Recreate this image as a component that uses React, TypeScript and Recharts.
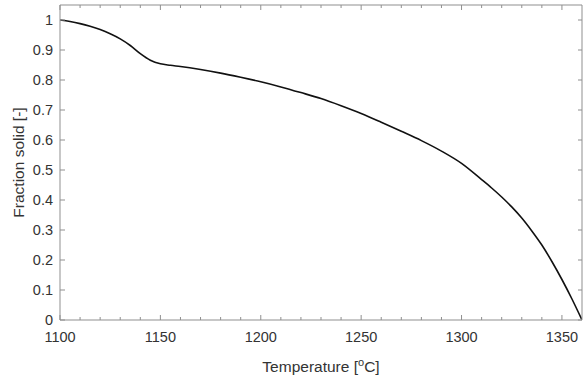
import React from 'react';
import { LineChart, Line, XAxis, YAxis, Label } from 'recharts';

const temperatures = [
  1100, 1105, 1110, 1115, 1120, 1125, 1130, 1135, 1140, 1145, 1150, 1155, 1160, 1170, 1180,
  1190, 1200, 1210, 1220, 1230, 1240, 1250, 1260, 1270, 1280, 1290, 1300, 1310, 1315, 1320,
  1325, 1330, 1335, 1340, 1345, 1350, 1355, 1360,
];
const fractionSolid = [
  1.0, 0.995, 0.988, 0.979, 0.968, 0.954, 0.937, 0.915, 0.888, 0.866, 0.854, 0.849, 0.845,
  0.835, 0.823, 0.809, 0.794, 0.777, 0.758, 0.738, 0.714, 0.688, 0.659, 0.629, 0.598, 0.563,
  0.522, 0.468, 0.44, 0.41, 0.377, 0.34, 0.297, 0.25, 0.195, 0.135, 0.07, 0.0,
];
const xMajorTicks = [1100, 1150, 1200, 1250, 1300, 1350];
const xAllTicks = [
  1100, 1110, 1120, 1130, 1140, 1150, 1160, 1170, 1180, 1190, 1200, 1210, 1220, 1230, 1240,
  1250, 1260, 1270, 1280, 1290, 1300, 1310, 1320, 1330, 1340, 1350,
];
const yTicks = [0, 0.1, 0.2, 0.3, 0.4, 0.5, 0.6, 0.7, 0.8, 0.9, 1];
const xDomain = [1100, 1360];
const yDomain = [0, 1.05];

const data = temperatures.map((t, i) => ({ T: t, f: fractionSolid[i] }));

const AXIS = '#8f8f8f';
const TEXT = '#333333';
const FONT = 'Liberation Sans, Arial, sans-serif';
const TICK_FONT = 14.5;

const isMajorX = (v: number) => xMajorTicks.indexOf(v) >= 0;

const BottomTick = (props: any) => {
  const { x, y, payload } = props;
  const v = payload.value;
  const major = isMajorX(v);
  return (
    <g>
      <line x1={x} x2={x} y1={y} y2={y - (major ? 5 : 3)} stroke={AXIS} />
      {major && (
        <text x={x} y={y + 22} textAnchor="middle" fill={TEXT} fontSize={TICK_FONT} fontFamily={FONT}>
          {v}
        </text>
      )}
    </g>
  );
};

const TopTick = (props: any) => {
  const { x, y, payload } = props;
  const major = isMajorX(payload.value);
  return <line x1={x} x2={x} y1={y} y2={y + (major ? 5 : 3)} stroke={AXIS} />;
};

const LeftTick = (props: any) => {
  const { x, y, payload } = props;
  return (
    <g>
      <line x1={x} x2={x + 5} y1={y} y2={y} stroke={AXIS} />
      <text x={x - 7} y={y + 5} textAnchor="end" fill={TEXT} fontSize={TICK_FONT} fontFamily={FONT}>
        {String(payload.value)}
      </text>
    </g>
  );
};

const RightTick = (props: any) => {
  const { x, y } = props;
  return <line x1={x} x2={x - 4} y1={y} y2={y} stroke={AXIS} />;
};

const XLabel = (props: any) => {
  const vb = props.viewBox || {};
  const cx = vb.x + vb.width / 2;
  const y = vb.y + 52;
  return (
    <text x={cx} y={y} textAnchor="middle" fill={TEXT} fontSize={15.5} fontFamily={FONT}>
      Temperature [
      <tspan dy={-6} fontSize={11}>o</tspan>
      <tspan dy={6}>C]</tspan>
    </text>
  );
};

export default function App() {
  return (
    <div style={{ position: 'absolute', left: 0, top: 0 }}>
      <LineChart
        width={583}
        height={377}
        data={data}
        margin={{ top: 4, right: 0, bottom: 0, left: 0 }}
        style={{ fontFamily: FONT }}
      >
        <XAxis
          xAxisId="top"
          orientation="top"
          type="number"
          dataKey="T"
          domain={xDomain}
          allowDataOverflow
          ticks={xAllTicks}
          interval={0}
          tick={TopTick}
          tickSize={0}
          tickMargin={0}
          tickLine={false}
          height={1}
          axisLine={{ stroke: AXIS }}
        />
        <XAxis
          xAxisId="main"
          type="number"
          dataKey="T"
          domain={xDomain}
          allowDataOverflow
          ticks={xAllTicks}
          interval={0}
          tick={BottomTick}
          tickSize={0}
          tickMargin={0}
          tickLine={false}
          height={57}
          axisLine={{ stroke: AXIS }}
        >
          <Label content={XLabel} />
        </XAxis>
        <YAxis
          yAxisId="main"
          type="number"
          domain={yDomain}
          allowDataOverflow
          ticks={yTicks}
          interval={0}
          tick={LeftTick}
          tickSize={0}
          tickMargin={0}
          tickLine={false}
          width={60}
          axisLine={{ stroke: AXIS }}
        >
          <Label
            value="Fraction solid [-]"
            angle={-90}
            position="center"
            dx={-12}
            style={{ fill: TEXT, fontSize: 15.5, fontFamily: FONT, textAnchor: 'middle' }}
          />
        </YAxis>
        <YAxis
          yAxisId="right"
          orientation="right"
          type="number"
          domain={yDomain}
          allowDataOverflow
          ticks={yTicks}
          interval={0}
          tick={RightTick}
          tickSize={0}
          tickMargin={0}
          tickLine={false}
          width={1}
          axisLine={{ stroke: AXIS }}
        />
        {/* invisible series binding the frame axes */}
        <Line xAxisId="top" yAxisId="right" dataKey="f" stroke="none" dot={false} activeDot={false} legendType="none" isAnimationActive={false} />
        <Line
          xAxisId="main"
          yAxisId="main"
          type="monotone"
          dataKey="f"
          stroke="#111111"
          strokeWidth={1.6}
          dot={false}
          isAnimationActive={false}
        />
      </LineChart>
    </div>
  );
}
